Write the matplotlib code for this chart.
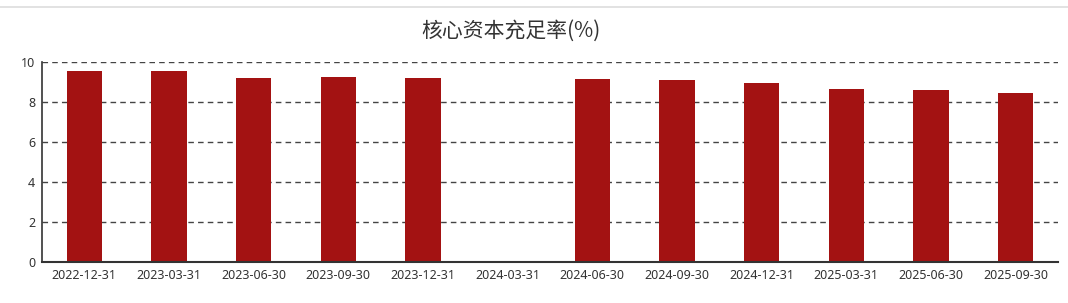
import numpy as np
import matplotlib.pyplot as plt
from matplotlib.lines import Line2D

dates = ["2022-12-31", "2023-03-31", "2023-06-30", "2023-09-30", "2023-12-31",
         "2024-03-31", "2024-06-30", "2024-09-30", "2024-12-31", "2025-03-31",
         "2025-06-30", "2025-09-30"]
ratio = [9.55, 9.56, 9.18, 9.25, 9.22, np.nan, 9.15, 9.12, 8.95, 8.65, 8.58, 8.43]
yticks = [0, 2, 4, 6, 8, 10]

plt.rcParams['font.family'] = ['Noto Sans', 'Noto Sans CJK SC', 'DejaVu Sans']

fig = plt.figure(figsize=(10.68, 3.03), dpi=100)
ax = fig.add_axes([0.0393, 0.1353, 0.9513, 0.6601])

x = np.arange(len(dates))
ax.bar(x, np.nan_to_num(ratio), width=0.42, color="#a31212", zorder=3)

ax.set_xlim(-0.5, len(dates) - 0.5)
ax.set_ylim(0, 10)
ax.set_xticks(x)
ax.set_xticklabels(dates, fontsize=9, color="#333333")
ax.set_yticks(yticks)
ax.set_yticklabels([str(v) for v in yticks], fontsize=9, color="#333333")
ax.tick_params(axis='both', length=0, pad=5)

ax.grid(axis='y', linestyle=(0, (4, 3)), color="#444444", linewidth=1, zorder=0)
for s in ['top', 'right']:
    ax.spines[s].set_visible(False)
ax.spines['left'].set_color("#333333")
ax.spines['bottom'].set_color("#333333")
ax.spines['left'].set_linewidth(1.2)
ax.spines['bottom'].set_linewidth(1.5)
ax.spines['bottom'].set_zorder(4)

fig.text(0.478, 0.9, "核心资本充足率(%)", ha='center', va='center', fontsize=15,
         color="#333333", family=['Noto Sans CJK SC', 'DejaVu Sans'])
fig.add_artist(Line2D([0, 1], [0.977, 0.977], color="#dddddd", linewidth=1.2,
                      transform=fig.transFigure))

fig.savefig("out.png", dpi=100)
